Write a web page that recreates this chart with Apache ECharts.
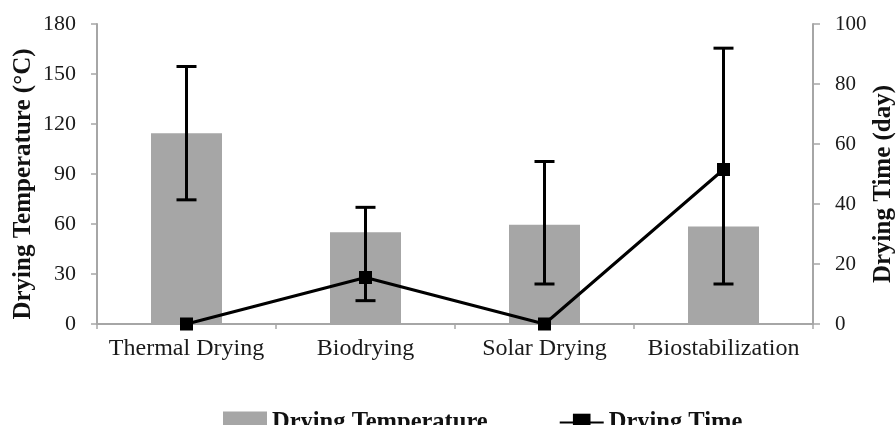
<!DOCTYPE html>
<html>
<head>
<meta charset="utf-8">
<script src="https://cdn.jsdelivr.net/npm/echarts@6/dist/echarts.min.js"></script>
<style>
html,body{margin:0;padding:0;background:#fff;overflow:hidden;width:896px;height:425px;}
#chart{width:896px;height:425px;}
</style>
</head>
<body>
<div id="chart"></div>
<script>
const categories = ['Thermal Drying', 'Biodrying', 'Solar Drying', 'Biostabilization'];
const dryingTemperature = [114.5, 55, 59.5, 58.5];
const dryingTime = [0, 15.5, 0, 51.5];
const errorLow = [74.5, 14, 24, 24];
const errorHigh = [154.5, 70, 97.5, 165.5];
const tempTicks = { min: 0, max: 180, interval: 30 };
const timeTicks = { min: 0, max: 100, interval: 20 };

const FONT = '"Liberation Serif", "Times New Roman", serif';
const AXIS_GRAY = '#a6a6a6';

const chart = echarts.init(document.getElementById('chart'), null, { renderer: 'canvas', width: 896, height: 425 });

const errorData = categories.map((c, i) => [i, errorLow[i], errorHigh[i]]);

const option = {
  animation: false,
  backgroundColor: '#ffffff',
  textStyle: { fontFamily: FONT },
  grid: { left: 97, right: 83, top: 24, bottom: 101, containLabel: false, outerBoundsMode: 'none' },
  legend: {
    left: 218,
    top: 405,
    itemWidth: 44,
    itemHeight: 22,
    itemGap: 71,
    textStyle: { fontFamily: FONT, fontSize: 24.5, fontWeight: 'bold', color: '#111' },
    data: [
      { name: 'Drying Temperature', icon: 'rect' },
      { name: 'Drying Time' }
    ]
  },
  xAxis: {
    type: 'category',
    data: categories,
    boundaryGap: true,
    axisLine: { show: true, lineStyle: { color: AXIS_GRAY, width: 2 } },
    axisTick: { show: true, alignWithLabel: false, length: 5, lineStyle: { color: AXIS_GRAY, width: 1.5 } },
    axisLabel: { fontFamily: FONT, fontSize: 24, color: '#1a1a1a', margin: 13, interval: 0 },
    splitLine: { show: false }
  },
  yAxis: [
    {
      type: 'value',
      min: tempTicks.min, max: tempTicks.max, interval: tempTicks.interval,
      name: 'Drying Temperature (°C)',
      nameLocation: 'middle',
      nameGap: 61,
      nameMoveOverlap: false,
      nameTextStyle: { fontFamily: FONT, fontSize: 25, fontWeight: 'bold', color: '#111', padding: [0, 20, 0, 0] },
      axisLine: { show: true, lineStyle: { color: AXIS_GRAY, width: 2 } },
      axisTick: { show: true, inside: false, length: 6, lineStyle: { color: AXIS_GRAY, width: 1.5 } },
      axisLabel: { fontFamily: FONT, fontSize: 22, color: '#1a1a1a', margin: 21 },
      splitLine: { show: false }
    },
    {
      type: 'value',
      position: 'right',
      min: timeTicks.min, max: timeTicks.max, interval: timeTicks.interval,
      name: 'Drying Time (day)',
      nameLocation: 'middle',
      nameGap: 58,
      nameMoveOverlap: false,
      nameTextStyle: { fontFamily: FONT, fontSize: 25, fontWeight: 'bold', color: '#111', padding: [0, 20, 0, 0] },
      axisLine: { show: true, lineStyle: { color: AXIS_GRAY, width: 2 } },
      axisTick: { show: true, inside: false, length: 7, lineStyle: { color: AXIS_GRAY, width: 1.5 } },
      axisLabel: { fontFamily: FONT, fontSize: 21, color: '#1a1a1a', margin: 22 },
      splitLine: { show: false }
    }
  ],
  series: [
    {
      name: 'Drying Temperature',
      type: 'bar',
      yAxisIndex: 0,
      data: dryingTemperature,
      barWidth: 71,
      itemStyle: { color: '#a6a6a6' },
      z: 1
    },
    {
      name: 'Error',
      type: 'custom',
      yAxisIndex: 0,
      data: errorData,
      z: 3,
      silent: true,
      renderItem: function (params, api) {
        const x = api.value(0);
        const pLow = api.coord([x, api.value(1)]);
        const pHigh = api.coord([x, api.value(2)]);
        const hw = 10;
        const st = { stroke: '#000', lineWidth: 3 };
        return {
          type: 'group',
          children: [
            { type: 'line', shape: { x1: pLow[0], y1: pLow[1], x2: pHigh[0], y2: pHigh[1] }, style: st },
            { type: 'line', shape: { x1: pLow[0] - hw, y1: pLow[1], x2: pLow[0] + hw, y2: pLow[1] }, style: st },
            { type: 'line', shape: { x1: pHigh[0] - hw, y1: pHigh[1], x2: pHigh[0] + hw, y2: pHigh[1] }, style: st }
          ]
        };
      }
    },
    {
      name: 'Drying Time',
      type: 'line',
      yAxisIndex: 1,
      data: dryingTime,
      symbol: 'rect',
      symbolSize: 13,
      showAllSymbol: true,
      lineStyle: { color: '#000', width: 3 },
      itemStyle: { color: '#000' },
      z: 4
    }
  ]
};
chart.setOption(option);
</script>
</body>
</html>
